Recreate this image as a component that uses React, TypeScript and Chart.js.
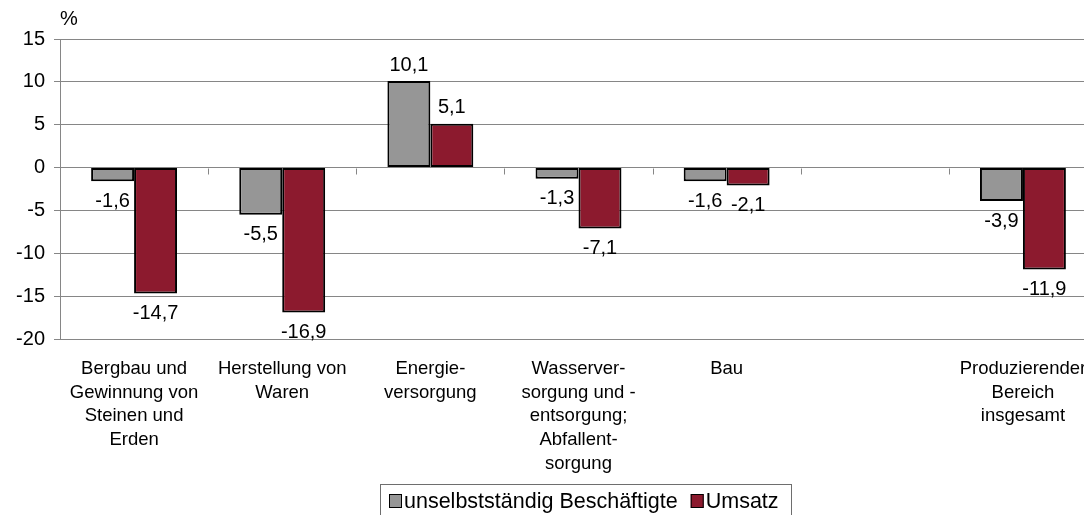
import React, { useEffect, useRef } from "react";
import { Chart, registerables } from "chart.js";

Chart.register(...registerables);

const categories: string[][] = [
  ["Bergbau und", "Gewinnung von", "Steinen und", "Erden"],
  ["Herstellung von", "Waren"],
  ["Energie-", "versorgung"],
  ["Wasserver-", "sorgung und -", "entsorgung;", "Abfallent-", "sorgung"],
  ["Bau"],
  [""],
  ["Produzierender", "Bereich", "insgesamt"],
];
const beschaeftigte: (number | null)[] = [-1.6, -5.5, 10.1, -1.3, -1.6, null, -3.9];
const umsatz: (number | null)[] = [-14.7, -16.9, 5.1, -7.1, -2.1, null, -11.9];
const yTicks: number[] = [15, 10, 5, 0, -5, -10, -15, -20];
const seriesNames: string[] = ["unselbstständig Beschäftigte", "Umsatz"];
const unitLabel = "%";

const FONT = '"Liberation Sans", Arial, sans-serif';
const GRAY = "#969696";
const RED = "#8c1a2e";
const GRID = "#868686";

const fmt = (v: number) => v.toFixed(1).replace(".", ",");

const unitPlugin = {
  id: "unitLabel",
  afterDraw(chart: any) {
    const { ctx, chartArea } = chart;
    ctx.save();
    ctx.font = `20px ${FONT}`;
    ctx.fillStyle = "#000";
    ctx.textAlign = "left";
    ctx.textBaseline = "middle";
    ctx.fillText(unitLabel, chartArea.left, chartArea.top - 20);
    ctx.restore();
  },
};

const zeroTicksPlugin = {
  id: "zeroTicks",
  afterDraw(chart: any) {
    const { ctx } = chart;
    const x = chart.scales.x;
    const y = chart.scales.y;
    const zy = Math.round(y.getPixelForValue(0)) + 0.5;
    ctx.save();
    ctx.strokeStyle = GRID;
    ctx.lineWidth = 1;
    ctx.beginPath();
    for (let i = 1; i < categories.length; i++) {
      const bx = Math.round((x.getPixelForValue(i - 1) + x.getPixelForValue(i)) / 2) + 0.5;
      ctx.moveTo(bx, zy);
      ctx.lineTo(bx, zy + 6);
    }
    ctx.stroke();
    ctx.restore();
  },
};

const valueLabelPlugin = {
  id: "valueLabels",
  afterDatasetsDraw(chart: any) {
    const { ctx } = chart;
    ctx.save();
    ctx.font = `20px ${FONT}`;
    ctx.fillStyle = "#000";
    ctx.textAlign = "center";
    ctx.textBaseline = "middle";
    chart.data.datasets.forEach((ds: any, di: number) => {
      const meta = chart.getDatasetMeta(di);
      meta.data.forEach((el: any, i: number) => {
        const v = ds.data[i];
        if (v === null || v === undefined) return;
        const yy = v >= 0 ? el.y - 16 : el.y + 20;
        ctx.fillText(fmt(v), el.x, yy);
      });
    });
    ctx.restore();
  },
};

const boxLegendPlugin = {
  id: "boxLegend",
  afterDraw(chart: any) {
    const { ctx } = chart;
    const centerX = 577;
    const top = 476;
    const sq = 13;
    const padL = 9;
    const padR = 12;
    const gapSq = 2;
    const gapItem = 13;
    ctx.save();
    ctx.font = `21.5px ${FONT}`;
    const widths = chart.data.datasets.map((d: any) => ctx.measureText(d.label).width);
    let total = padL + padR;
    widths.forEach((w: number, i: number) => {
      total += sq + gapSq + w + (i > 0 ? gapItem : 0);
    });
    const left = Math.round(centerX - total / 2);
    ctx.strokeStyle = "#6e6e6e";
    ctx.lineWidth = 1;
    ctx.strokeRect(left + 0.5, top + 0.5, Math.round(total), 50);
    let cx = left + padL;
    const cy = top + 17;
    chart.data.datasets.forEach((d: any, i: number) => {
      if (i > 0) cx += gapItem;
      ctx.fillStyle = d.backgroundColor;
      ctx.fillRect(cx, cy - 7, sq, 14);
      ctx.strokeStyle = "#000";
      ctx.strokeRect(cx + 0.5, cy - 7 + 0.5, sq - 1, 13);
      cx += sq + gapSq;
      ctx.fillStyle = "#000";
      ctx.textAlign = "left";
      ctx.textBaseline = "middle";
      ctx.fillText(d.label, cx, cy + 1);
      cx += widths[i];
    });
    ctx.restore();
  },
};

export default function App() {
  const ref = useRef<HTMLCanvasElement | null>(null);

  useEffect(() => {
    if (!ref.current) return;
    const chart = new Chart(ref.current, {
      type: "bar",
      data: {
        labels: categories,
        datasets: [
          {
            label: seriesNames[0],
            data: beschaeftigte,
            backgroundColor: GRAY,
            borderColor: "#000",
            borderWidth: 2,
            borderSkipped: false,
          },
          {
            label: seriesNames[1],
            data: umsatz,
            backgroundColor: RED,
            borderColor: "#000",
            borderWidth: 2,
            borderSkipped: false,
          },
        ] as any,
      },
      options: {
        animation: false,
        responsive: false,
        devicePixelRatio: 1,
        layout: { padding: { top: 31, right: 11, bottom: 26, left: 0 } },
        datasets: { bar: { categoryPercentage: 0.58, barPercentage: 1 } },
        plugins: {
          legend: { display: false },
          tooltip: { enabled: false },
          title: { display: false },
        },
        scales: {
          x: {
            grid: { display: false },
            border: { display: false },
            ticks: {
              autoSkip: false,
              maxRotation: 0,
              minRotation: 0,
              padding: 10,
              color: "#000",
              font: { family: FONT, size: 18.5, lineHeight: 1.28 },
            },
            afterFit: (s: any) => {
              s.height = 150;
            },
          },
          y: {
            min: -20,
            max: 15,
            afterBuildTicks: (s: any) => {
              s.ticks = yTicks.map((v) => ({ value: v }));
            },
            grid: { color: GRID, lineWidth: 1, tickLength: 6, drawTicks: true, tickColor: GRID },
            border: { display: true, color: GRID, width: 1 },
            ticks: {
              padding: 9,
              color: "#000",
              font: { family: FONT, size: 20 },
              callback: (v: any) => String(v),
            },
            afterFit: (s: any) => {
              s.width = 52;
            },
          },
        },
      },
      plugins: [unitPlugin, zeroTicksPlugin, valueLabelPlugin, boxLegendPlugin],
    });
    return () => chart.destroy();
  }, []);

  return (
    <div style={{ width: 1084, height: 507, overflow: "hidden" }}>
      <canvas ref={ref} width={1100} height={507} style={{ display: "block", width: 1100, height: 507 }} />
    </div>
  );
}
